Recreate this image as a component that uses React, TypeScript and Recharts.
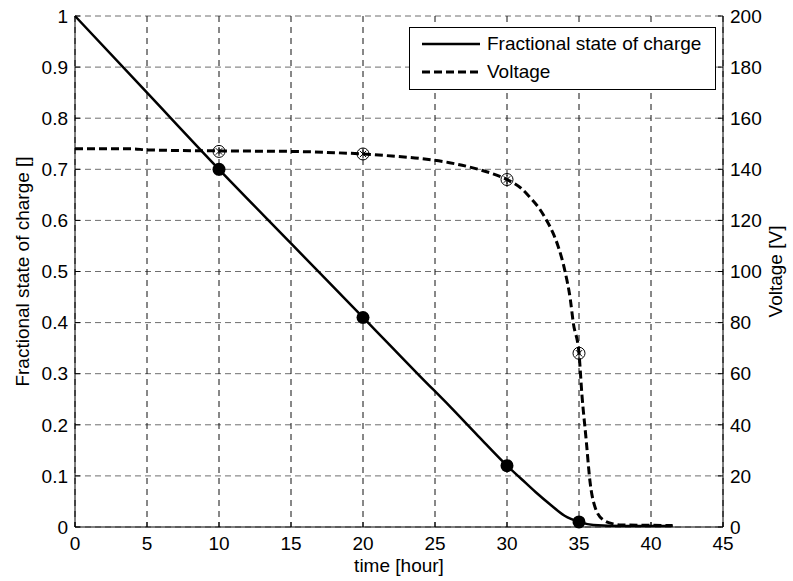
import React from 'react';
import { ComposedChart, Line, Scatter, XAxis, YAxis, CartesianGrid, Legend } from 'recharts';

// ---- data ----
const timeTicks = [0, 5, 10, 15, 20, 25, 30, 35, 40, 45];
const socTicks = [0, 0.1, 0.2, 0.3, 0.4, 0.5, 0.6, 0.7, 0.8, 0.9, 1];
const voltageTicks = [0, 20, 40, 60, 80, 100, 120, 140, 160, 180, 200];

const socTime = [0, 5, 10, 15, 20, 22, 24, 26, 28, 30, 31, 32, 33, 34, 35, 36, 38, 41.5];
const socValue = [1.0, 0.85, 0.7, 0.555, 0.41, 0.352, 0.294, 0.237, 0.178, 0.12, 0.094, 0.068, 0.044, 0.022, 0.01, 0.004, 0.002, 0.002];

const voltageTime = [0, 4, 5, 10, 15, 18, 20, 22, 24, 26, 28, 29, 30, 31, 31.6, 32.2, 32.75, 33.2, 33.56, 34.03, 34.4, 34.6, 35, 35.2, 35.5, 35.76, 36.1, 36.7, 37.4, 38, 41.5];
const voltageValue = [148, 148, 147.6, 147.2, 147, 146.5, 146, 145.2, 144.2, 142.6, 140, 138.3, 136, 132.5, 129, 125, 120, 115, 109.7, 100, 89, 80, 68, 52, 34, 18, 8, 2.7, 1.2, 0.8, 0.6];

const markerTime = [10, 20, 30, 35];
const socMarkerValue = [0.7, 0.41, 0.12, 0.01];
const voltageMarkerValue = [147, 146, 136, 68];

const legendLabels = ['Fractional state of charge', 'Voltage'];

const FONT = '"Liberation Sans", Arial, sans-serif';
const FONT_SIZE = 19;
const TICK = { fill: '#000', fontSize: FONT_SIZE, fontFamily: FONT };

const socData = socTime.map((t, i) => ({ t, soc: socValue[i] }));
const voltageData = voltageTime.map((t, i) => ({ t, v: voltageValue[i] }));
const socMarkers = markerTime.map((t, i) => ({ t, soc: socMarkerValue[i] }));
const voltageMarkers = markerTime.map((t, i) => ({ t, v: voltageMarkerValue[i] }));

function SocDot(props: any) {
  const { cx, cy } = props;
  return <circle cx={cx} cy={cy} r={6.5} fill="#000" />;
}

function VoltageDot(props: any) {
  const { cx, cy } = props;
  const a = 4.5;
  const d = 3.2;
  return (
    <g stroke="#000" strokeWidth={1} fill="none">
      <circle cx={cx} cy={cy} r={6} />
      <line x1={cx} y1={cy - a} x2={cx} y2={cy + a} />
      <line x1={cx - d} y1={cy - d} x2={cx + d} y2={cy + d} />
      <line x1={cx - d} y1={cy + d} x2={cx + d} y2={cy - d} />
    </g>
  );
}

function LegendBox() {
  return (
    <div
      style={{
        width: 305,
        height: 61,
        border: '1px solid #000',
        background: '#fff',
        position: 'relative',
        fontFamily: FONT,
        fontSize: FONT_SIZE,
        color: '#000',
      }}
    >
      {legendLabels.map((label, i) => (
        <div
          key={label}
          style={{
            position: 'absolute',
            left: 12,
            top: 5 + i * 28,
            height: 22,
            display: 'flex',
            alignItems: 'center',
            whiteSpace: 'nowrap',
          }}
        >
          <svg width={58} height={6} style={{ marginRight: 7 }}>
            <line
              x1={0}
              y1={3}
              x2={58}
              y2={3}
              stroke="#000"
              strokeWidth={i === 0 ? 2.5 : 3}
              strokeDasharray={i === 0 ? undefined : '8 4'}
            />
          </svg>
          <span>{label}</span>
        </div>
      ))}
    </div>
  );
}

export default function App() {
  return (
    <div style={{ position: 'absolute', left: 0, top: 0, width: 793, height: 581, background: '#fff' }}>
      <ComposedChart width={793} height={581} margin={{ top: 16, right: 0, bottom: 0, left: 0 }}>
        <CartesianGrid yAxisId="soc" vertical={false} stroke="#6e6e6e" strokeDasharray="6 4" />
        <CartesianGrid yAxisId="soc" horizontal={false} stroke="#111" strokeDasharray="6 5" />
        <XAxis
          dataKey="t"
          type="number"
          domain={[0, 45]}
          ticks={timeTicks}
          interval={0}
          height={54}
          tick={TICK}
          tickSize={-5}
          tickMargin={15}
          stroke="#000"
          label={{ value: 'time [hour]', position: 'insideBottom', offset: 9, fill: '#000', fontSize: FONT_SIZE, fontFamily: FONT }}
        />
        <XAxis
          xAxisId="top"
          orientation="top"
          type="number"
          domain={[0, 45]}
          ticks={timeTicks}
          interval={0}
          height={0}
          tickSize={-5}
          tickFormatter={() => ''}
          stroke="#000"
        />
        <YAxis
          yAxisId="soc"
          type="number"
          domain={[0, 1]}
          ticks={socTicks}
          interval={0}
          width={75}
          tick={TICK}
          tickSize={-5}
          tickMargin={12}
          stroke="#000"
          label={{
            value: 'Fractional state of charge []',
            angle: -90,
            position: 'insideLeft',
            offset: 22,
            fill: '#000',
            fontSize: FONT_SIZE,
            fontFamily: FONT,
            style: { textAnchor: 'middle' },
          }}
        />
        <YAxis
          yAxisId="v"
          orientation="right"
          type="number"
          domain={[0, 200]}
          ticks={voltageTicks}
          interval={0}
          width={70}
          tick={TICK}
          tickSize={-5}
          tickMargin={12}
          stroke="#000"
          label={{
            value: 'Voltage [V]',
            angle: -90,
            position: 'insideRight',
            offset: 18,
            fill: '#000',
            fontSize: FONT_SIZE,
            fontFamily: FONT,
            style: { textAnchor: 'middle' },
          }}
        />
        <Line
          yAxisId="v"
          data={voltageData}
          dataKey="v"
          type="monotone"
          stroke="#000"
          strokeWidth={3}
          strokeDasharray="8 4"
          dot={false}
          activeDot={false}
          isAnimationActive={false}
        />
        <Line
          yAxisId="soc"
          data={socData}
          dataKey="soc"
          type="monotone"
          stroke="#000"
          strokeWidth={2.5}
          dot={false}
          activeDot={false}
          isAnimationActive={false}
        />
        <Scatter yAxisId="v" data={voltageMarkers} dataKey="v" shape={VoltageDot} isAnimationActive={false} />
        <Scatter yAxisId="soc" data={socMarkers} dataKey="soc" shape={SocDot} isAnimationActive={false} />
        <Legend
          layout="horizontal"
          verticalAlign="middle"
          align="center"
          content={() => <LegendBox />}
          wrapperStyle={{ left: 409, top: 27, width: 307, height: 63 }}
        />
      </ComposedChart>
    </div>
  );
}
